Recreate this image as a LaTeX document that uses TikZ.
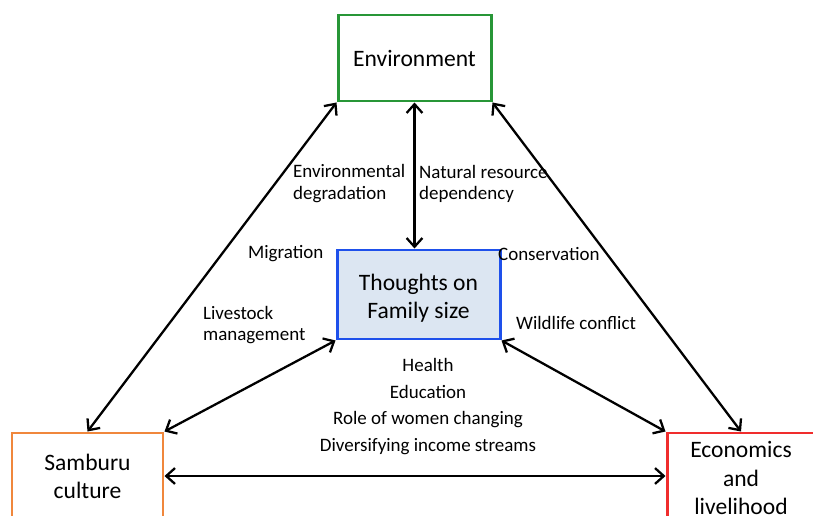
\documentclass[tikz,border=0pt]{standalone}
\usepackage{fontspec}
\setmainfont{Carlito}
\usepackage{tikz}
\usetikzlibrary{arrows.meta,positioning}

\definecolor{envgreen}{RGB}{40,150,55}
\definecolor{famblue}{RGB}{30,80,235}
\definecolor{famfill}{RGB}{220,230,242}
\definecolor{samorange}{RGB}{240,135,60}
\definecolor{ecored}{RGB}{240,45,45}

\begin{document}
\begin{tikzpicture}[<->,>={Straight Barb[length=5pt,width=9pt]},line width=1.3pt,
      main node/.style={rectangle,draw,line width=1.7pt,align=center,
        font=\fontsize{13.4}{16}\selectfont},
      link label/.style={inner sep=0pt,align=left,
        font=\fontsize{10.8}{12}\selectfont}]
    \useasboundingbox (0,0) rectangle (16.26,10.3);

      \node[main node,draw=envgreen,minimum width=3.06cm,minimum height=1.72cm,text height=1em] (environment) at (8.29,9.14) {Environment};
      \node[main node,draw=famblue,fill=famfill,minimum width=3.26cm,minimum height=1.78cm] (family) at (8.37,4.41) {\vphantom{Tg}\\[-1.7ex]Thoughts on\\Family size};
      \node[main node,draw=samorange,minimum width=3.02cm,minimum height=1.72cm] (samburu) at (1.75,0.78) {Samburu\\culture};
      \node[main node,draw=ecored,minimum width=2.96cm,minimum height=1.8cm,inner sep=1pt] (economics) at (14.82,0.74) {Economics\\and\\livelihood};

      \node[link label,anchor=west] (degradation) at (5.84,6.63) {Environmental\\degradation};
      \node[link label,anchor=west] (dependency) at (8.36,6.63) {Natural resource\\dependency};
      \node[link label,anchor=west] (migration) at (4.94,5.22) {Migration};
      \node[link label,anchor=west] (conservation) at (9.94,5.22) {Conservation};
      \node[link label,anchor=west] (livestock) at (4.04,3.8) {Livestock\\management};
      \node[link label,anchor=west] (wildlife) at (10.3,3.84) {Wildlife conflict};
      \node[link label,align=center,font=\fontsize{10.8}{15.3}\selectfont] (health) at (8.56,2.17)
        {Health\\Education\\Role of women changing\\Diversifying income streams};

      \draw (environment.south west) -- (samburu.north);
      \draw (environment.south) -- (environment.south |- family.north);
      \draw (environment.south east) -- (economics.north);
      \draw (family.south west) -- (samburu.north east);
      \draw (family.south east) -- (economics.north west);
      \draw (samburu.east) -- (samburu.east -| economics.west);

    \end{tikzpicture}
\end{document}
